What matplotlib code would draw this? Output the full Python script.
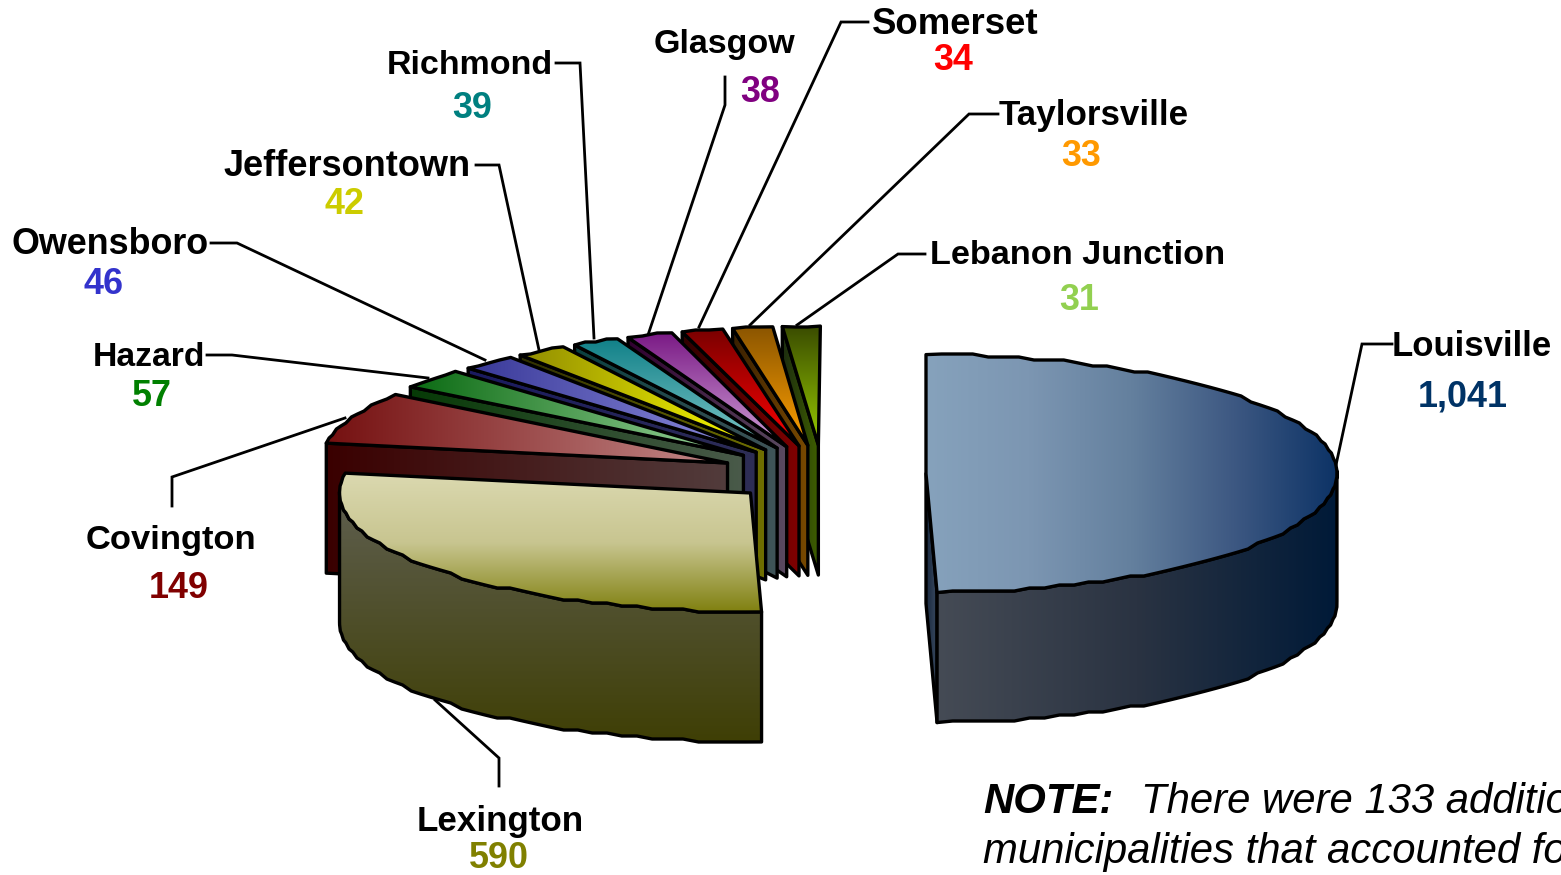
import numpy as np
import matplotlib
matplotlib.use("Agg")
import matplotlib.pyplot as plt
from matplotlib.colors import to_rgb
from matplotlib.patches import Polygon

plt.rcParams['font.family'] = ['Liberation Sans', 'DejaVu Sans']

# ---- data ----
categories = ["Louisville", "Lexington", "Covington", "Hazard", "Owensboro", "Jeffersontown",
              "Richmond", "Glasgow", "Somerset", "Taylorsville", "Lebanon Junction"]
values = [1041, 590, 149, 57, 46, 42, 39, 38, 34, 33, 31]
value_labels = ["1,041", "590", "149", "57", "46", "42", "39", "38", "34", "33", "31"]

# ---- styles ----
label_colors = ["#003366", "#808000", "#800000", "#008000", "#3333cc", "#cccc00",
                "#008080", "#800080", "#ff0000", "#ff9900", "#92d050"]
top_stops = [["#86a2bc", "#7c96b2", "#64809e", "#3d5882", "#0d3366"],
             ["#dbd9b0", "#c8c590", "#808010"],
             ["#751010", "#c48a8a"], ["#0a6a12", "#a0d8a0"], ["#383898", "#9090e0"],
             ["#908c00", "#ffff00"], ["#108088", "#80c8c8"], ["#7a1a85", "#d0a0d8"],
             ["#7a0000", "#ff0000"], ["#8a5500", "#ffa000"], ["#3a4c00", "#99cc00"]]
top_axis = ["x", "y", "x", "x", "x", "x", "y", "y", "y", "y", "y"]
face_stops = [["#1a2a40", "#3a4a60"], None, ["#3a0000", "#523c3c"], ["#063a06", "#4a5a4a"],
              ["#1a1a60", "#2e2e55"], ["#303000", "#707000"], ["#0a4040", "#405458"],
              ["#300030", "#5a4a60"], ["#300000", "#800000"], ["#3a2000", "#7a4a00"],
              ["#1c2c10", "#3f5f00"]]
rim_stops = [["#454b55", "#2a3342", "#001a38"], ["#5f5f50", "#3f3f05"]]
rim_axis = ["x", "y"]
apex_nudge = [0, 0, -6, -6, -4, -5, -4, -5, -3, -4, -3]
rim_nudge = [0, 0, -2, -3, -1, -2, -1, -1, -1, -1, -1]

label_pos = [(1472, 346), (500, 821), (171, 540), (149, 357), (110, 245), (347, 167),
             (470, 65), (725, 45), (955, 24), (1094, 116), (1078, 255)]
label_size = [25.0, 25.2, 24.8, 24.3, 25.8, 26.0, 24.5, 24.5, 26.4, 25.2, 24.7]
value_pos = [(1463, 397), (499, 859), (179, 589), (152, 397), (104, 285), (344, 205),
             (472, 109), (760, 92), (953, 61), (1081, 157), (1079, 301)]
leaders = [[(1392, 344), (1362, 344), (1336, 465)], [(499, 786), (499, 758), (435, 700)],
           [(172, 506), (172, 477), (345, 418)], [(207, 355), (232, 355), (428, 378)],
           [(211, 243), (237, 243), (485, 360)], [(476, 165), (499, 165), (539, 350)],
           [(556, 63), (580, 63), (594, 338)], [(725, 77), (725, 105), (648, 335)],
           [(868, 22), (841, 22), (699, 327)], [(998, 114), (969, 114), (750, 325)],
           [(925, 254), (898, 254), (797, 325)]]

CX, CY, RX, RY, DEPTH, EXPLODE = 826, 474, 411, 119, 130, 100
W, H = 1561, 875
EDGE = 2.4

fig = plt.figure(figsize=(W / 100, H / 100), dpi=100)
ax = fig.add_axes([0, 0, 1, 1])
ax.set_xlim(0, W)
ax.set_ylim(H, 0)
ax.axis("off")


def gradient_fill(pts, stops, axis, z):
    pts = np.asarray(pts, float)
    x0, y0 = pts.min(axis=0)
    x1, y1 = pts.max(axis=0)
    rgb = np.array([to_rgb(c) for c in stops])
    pos = np.linspace(0, 1, len(stops))
    t = np.linspace(0, 1, 256)
    ramp = np.stack([np.interp(t, pos, rgb[:, k]) for k in range(3)], axis=-1)
    img = ramp[np.newaxis, :, :] if axis == "x" else ramp[:, np.newaxis, :]
    im = ax.imshow(img, extent=(x0, x1, y1, y0), origin="upper", aspect="auto",
                   interpolation="bilinear", zorder=z)
    clip = Polygon(pts, closed=True, transform=ax.transData)
    im.set_clip_path(clip)
    ax.add_patch(Polygon(pts, closed=True, fill=False, edgecolor="black",
                         linewidth=EDGE, joinstyle="round", zorder=z + 0.1))


def rim_points(ax_, ay_, a0, a1):
    n = max(2, int(np.ceil((a1 - a0) / 2.2)) + 1)
    ang = np.linspace(a0, a1, n)
    rad = np.radians(ang)
    xs = ax_ + RX * np.sin(rad)
    ys = ay_ - RY * np.cos(rad)
    ys[1:-1] = np.round(ys[1:-1] / 3) * 3   # slightly stepped outline, as in the source
    return ang, np.column_stack([xs, ys])


total = sum(values)
ends = np.cumsum(values) / total * 360
starts = np.concatenate([[0], ends[:-1]])

for path in leaders:
    xs, ys = zip(*path)
    ax.plot(xs, ys, color="black", lw=2.0, solid_joinstyle="miter", zorder=1)

# back slices first, then the two big front slices
order = list(range(len(values) - 1, 1, -1)) + [1, 0]
z = 2
for i in order:
    a0, a1 = starts[i], ends[i]
    mid = np.radians((a0 + a1) / 2)
    ox = CX + EXPLODE * np.sin(mid)
    oy = CY - EXPLODE * RY / RX * np.cos(mid)
    ang, rim = rim_points(ox + rim_nudge[i], oy, a0, a1)
    down = np.array([0, DEPTH])
    apex = np.array([ox + apex_nudge[i], oy])

    # cut face seen by the viewer
    if i == 0:
        p_end = rim[-1]
        gradient_fill([apex, p_end, p_end + down, apex + down], face_stops[0], "x", z)
        z += 1
    elif face_stops[i] is not None:
        p_start = rim[0]
        gradient_fill([p_start, apex, apex + down, p_start + down], face_stops[i], "x", z)
        z += 1

    # outer wall on the near half of the ellipse
    if i < 2:
        wall = rim[ang >= 88] if i == 0 else rim[ang <= 272]
        gradient_fill(np.vstack([wall, (wall + down)[::-1]]), rim_stops[i], rim_axis[i], z)
        z += 1

    gradient_fill(np.vstack([apex, rim]), top_stops[i], top_axis[i], z)
    z += 1

for name, val, col, lp, vp, ls in zip(categories, value_labels, label_colors,
                                      label_pos, value_pos, label_size):
    ax.text(lp[0], lp[1], name, fontsize=ls, fontweight="bold", color="black",
            ha="center", va="center", zorder=100)
    ax.text(vp[0], vp[1], val, fontsize=25.8, fontweight="bold", color=col,
            ha="center", va="center", zorder=100)

ax.text(983, 813, "NOTE:", fontsize=30.2, fontweight="bold", fontstyle="italic",
        ha="left", va="baseline", zorder=100)
ax.text(1141, 813, "There were 133 additional", fontsize=30.2, fontstyle="italic",
        ha="left", va="baseline", zorder=100)
ax.text(983, 863, "municipalities that accounted for", fontsize=30.2, fontstyle="italic",
        ha="left", va="baseline", zorder=100)

ax.set_xlim(0, W)
ax.set_ylim(H, 0)
fig.savefig("out.png", dpi=100, facecolor="white")
